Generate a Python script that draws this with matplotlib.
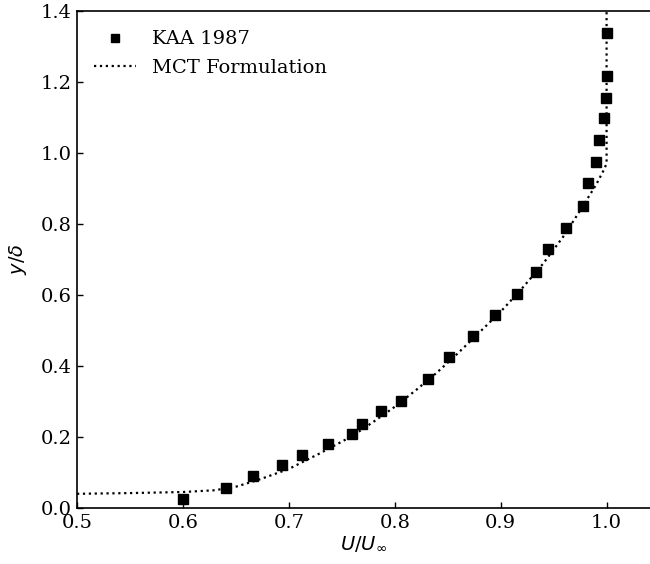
import numpy as np
import matplotlib
matplotlib.use("Agg")
import matplotlib.pyplot as plt

# KAA 1987 measurements (U/U_inf, y/delta)
kaa_u = [0.600, 0.641, 0.666, 0.694, 0.712, 0.737, 0.760, 0.769, 0.787, 0.806,
         0.831, 0.851, 0.874, 0.895, 0.915, 0.933, 0.945, 0.962, 0.978, 0.982,
         0.990, 0.993, 0.998, 0.999, 1.000, 1.000]
kaa_y = [0.025, 0.057, 0.090, 0.120, 0.150, 0.180, 0.208, 0.238, 0.272, 0.302,
         0.362, 0.424, 0.484, 0.545, 0.604, 0.665, 0.730, 0.790, 0.851, 0.915,
         0.975, 1.037, 1.098, 1.154, 1.217, 1.337]

# MCT formulation profile
mct_u = [0.50, 0.55, 0.60, 0.63, 0.65, 0.67, 0.70, 0.73, 0.76, 0.78, 0.80,
         0.82, 0.84, 0.86, 0.88, 0.90, 0.92, 0.94, 0.96, 0.975, 0.99, 0.997,
         1.00, 1.00]
mct_y = [0.040, 0.042, 0.045, 0.050, 0.060, 0.078, 0.110, 0.155, 0.203, 0.243,
         0.285, 0.332, 0.382, 0.437, 0.495, 0.553, 0.618, 0.688, 0.768, 0.838,
         0.910, 0.950, 0.970, 1.400]

fig = plt.figure(figsize=(6.5, 5.64), dpi=100)
ax = fig.add_axes([0.1185, 0.0993, 0.8815, 0.8812])

ax.plot(kaa_u, kaa_y, "s", color="black", markersize=7.5, label="KAA 1987")
ax.plot(mct_u, mct_y, ":", color="black", linewidth=1.6, label="MCT Formulation")

ax.set_xlim(0.5, 1.041)
ax.set_ylim(0.0, 1.4)
ax.set_xticks(np.arange(0.5, 1.01, 0.1))
ax.set_yticks(np.arange(0.0, 1.41, 0.2))

serif = {"family": "DejaVu Serif", "size": 14}
ax.set_xticklabels([f"{v:.1f}" for v in ax.get_xticks()], fontdict=serif)
ax.set_yticklabels([f"{v:.1f}" for v in ax.get_yticks()], fontdict=serif)
ax.tick_params(direction="in", length=4, width=1, pad=4)

ax.set_xlabel(r"$U/U_\infty$", fontsize=14, labelpad=2)
ax.set_ylabel(r"$y/\delta$", fontsize=14, labelpad=8)

ax.spines["right"].set_visible(False)
for s in ["left", "top", "bottom"]:
    ax.spines[s].set_linewidth(1.2)

ax.legend(loc="upper left", bbox_to_anchor=(-0.005, 1.0), frameon=False,
          prop={"family": "DejaVu Serif", "size": 14}, handlelength=2.2,
          borderaxespad=0.6, labelspacing=0.55, numpoints=1, markerscale=0.85)

fig.savefig("out.png", dpi=100)
